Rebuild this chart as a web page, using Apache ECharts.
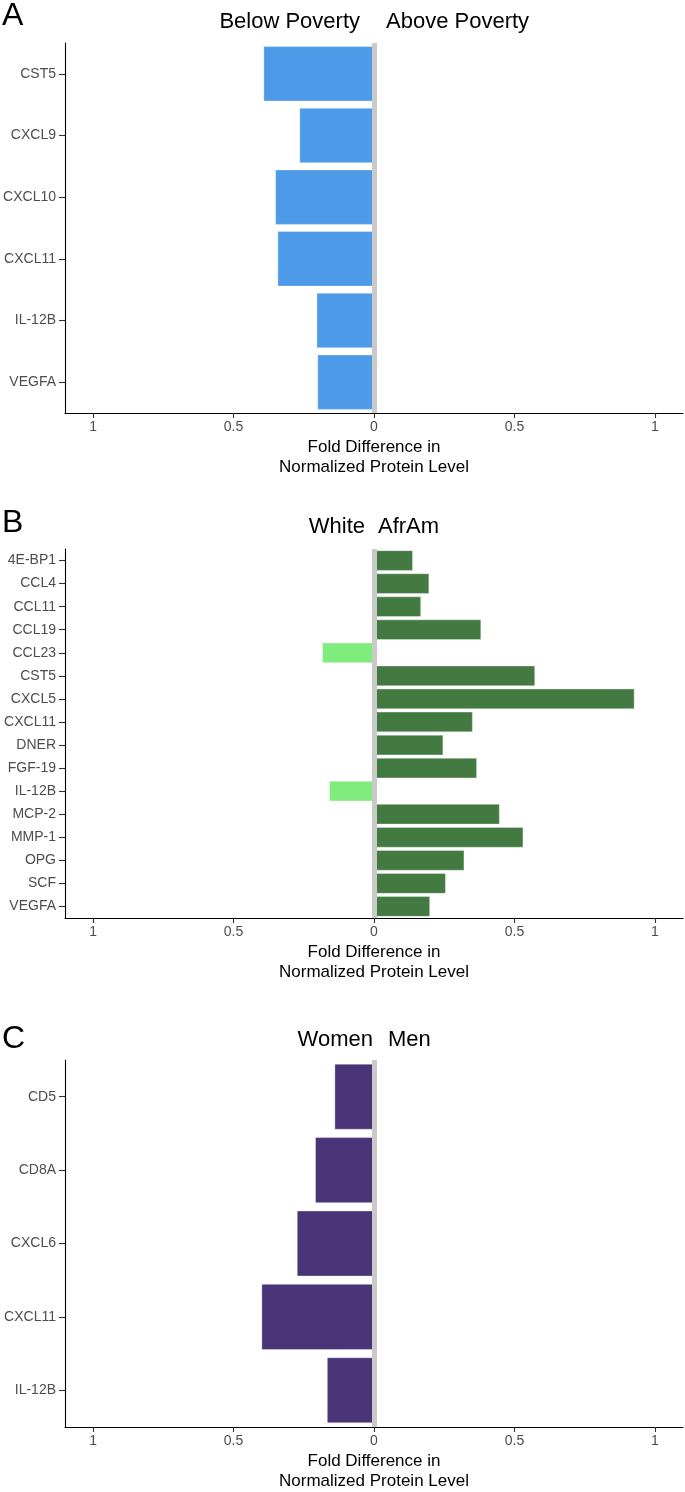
<!DOCTYPE html>
<html>
<head>
<meta charset="utf-8">
<script src="https://cdn.jsdelivr.net/npm/echarts@6/dist/echarts.min.js"></script>
<style>
html,body{margin:0;padding:0;background:#fff;}
#chart{width:685px;height:1492px;}
</style>
</head>
<body>
<div id="chart"></div>
<script>
// Panel A: Below vs Above Poverty
const catsA = ['CST5', 'CXCL9', 'CXCL10', 'CXCL11', 'IL-12B', 'VEGFA'];
const valsA = [-0.394, -0.266, -0.352, -0.344, -0.205, -0.202];
// Panel B: White vs AfrAm
const catsB = ['4E-BP1', 'CCL4', 'CCL11', 'CCL19', 'CCL23', 'CST5', 'CXCL5', 'CXCL11', 'DNER', 'FGF-19', 'IL-12B', 'MCP-2', 'MMP-1', 'OPG', 'SCF', 'VEGFA'];
const valsB = [0.139, 0.197, 0.168, 0.382, -0.185, 0.574, 0.928, 0.352, 0.247, 0.367, -0.160, 0.448, 0.532, 0.322, 0.256, 0.200];
// Panel C: Women vs Men
const catsC = ['CD5', 'CD8A', 'CXCL6', 'CXCL11', 'IL-12B'];
const valsC = [-0.141, -0.210, -0.275, -0.401, -0.168];
// x tick values (labels shown as absolute values)
const xTicks = [-1, -0.5, 0, 0.5, 1];

const FONT = 'Liberation Sans, Arial, Helvetica, sans-serif';
const chart = echarts.init(document.getElementById('chart'), null, {renderer: 'canvas'});

const grids = [
  {left: 65, right: 2, top: 43, height: 370},
  {left: 65, right: 2, top: 549, height: 369},
  {left: 65, right: 2, top: 1060, height: 369}
];

function xAxisFor(i) {
  return {
    type: 'value', gridIndex: i, min: -1.1, max: 1.1,
    splitLine: {show: false},
    axisLine: {show: true, onZero: false, lineStyle: {color: '#000', width: 1.1}},
    axisTick: {show: true, length: 5, lineStyle: {color: '#333', width: 1.1}, customValues: xTicks},
    axisLabel: {color: '#4d4d4d', fontSize: 14, fontFamily: FONT, margin: 7, customValues: xTicks,
      formatter: v => String(Math.abs(v))},
    name: 'Fold Difference in\nNormalized Protein Level',
    nameLocation: 'middle', nameGap: 24,
    nameTextStyle: {color: '#000', fontSize: 17, fontFamily: FONT, lineHeight: 20}
  };
}
function yAxisFor(i, cats) {
  return {
    type: 'category', gridIndex: i, data: cats, inverse: true, position: 'left',
    axisLine: {show: true, onZero: false, lineStyle: {color: '#000', width: 1.1}},
    axisTick: {show: true, alignWithLabel: true, length: 6, lineStyle: {color: '#333', width: 1.1}},
    axisLabel: {color: '#4d4d4d', fontSize: 14, fontFamily: FONT, margin: 9},
    splitLine: {show: false}
  };
}
function zeroLine() {
  return {
    silent: true, symbol: ['none', 'none'], label: {show: false},
    lineStyle: {color: '#c9c9c9', width: 5, type: 'solid'},
    data: [{xAxis: 0}], animation: false
  };
}
function barSeries(i, vals, colorFn) {
  return {
    type: 'bar', xAxisIndex: i, yAxisIndex: i, data: vals,
    barCategoryGap: '10%',
    itemStyle: {color: colorFn, borderColor: 'rgba(255,255,255,0.35)', borderWidth: 1},
    markLine: zeroLine(), animation: false
  };
}

function txt(x, y, s, size, align) {
  return {type: 'text', x: x, y: y, silent: true,
    style: {text: s, fontSize: size, fontFamily: FONT, fill: '#000', align: align, verticalAlign: 'middle'}};
}

const option = {
  backgroundColor: '#fff',
  animation: false,
  grid: grids,
  xAxis: [xAxisFor(0), xAxisFor(1), xAxisFor(2)],
  yAxis: [yAxisFor(0, catsA), yAxisFor(1, catsB), yAxisFor(2, catsC)],
  series: [
    barSeries(0, valsA, '#4c9ae8'),
    barSeries(1, valsB, p => (p.value < 0 ? '#80ec7e' : '#437a41')),
    barSeries(2, valsC, '#4a3478')
  ],
  graphic: [
    txt(2, 16, 'A', 32, 'left'),
    txt(360, 22, 'Below Poverty', 22, 'right'),
    txt(386, 22, 'Above Poverty', 22, 'left'),
    txt(2, 523, 'B', 32, 'left'),
    txt(365, 527, 'White', 22, 'right'),
    txt(378, 527, 'AfrAm', 22, 'left'),
    txt(2, 1039, 'C', 32, 'left'),
    txt(373, 1040, 'Women', 22, 'right'),
    txt(388, 1040, 'Men', 22, 'left')
  ]
};
chart.setOption(option);
</script>
</body>
</html>
